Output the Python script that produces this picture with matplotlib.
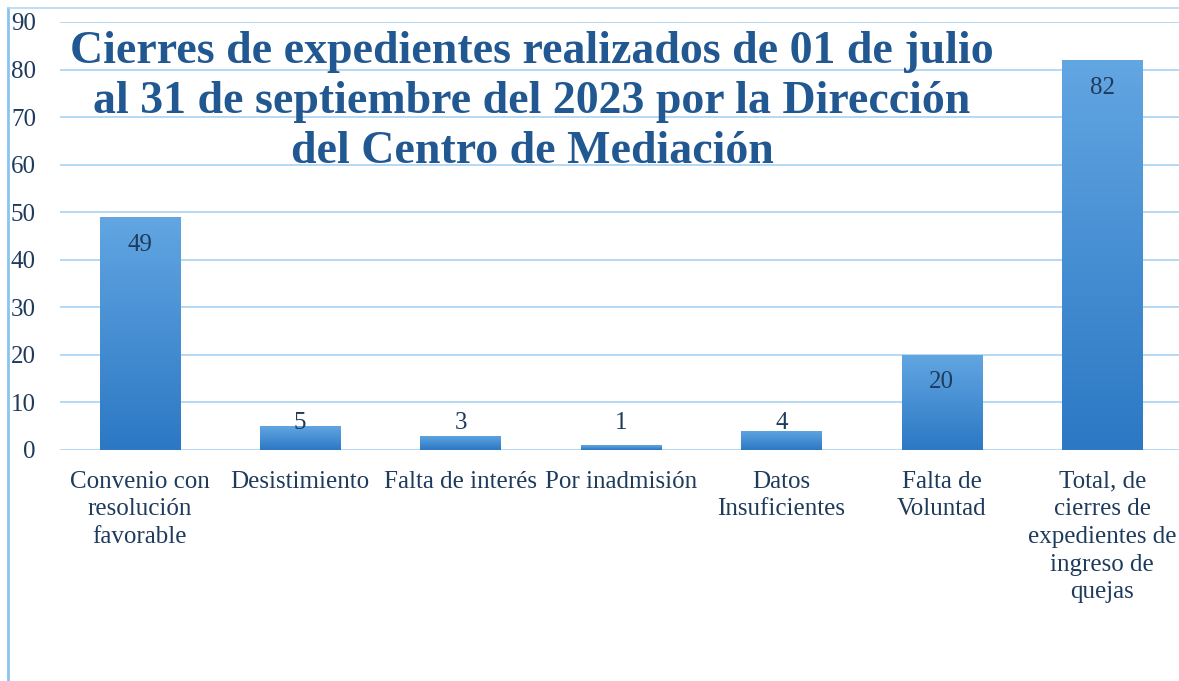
import matplotlib
matplotlib.use("Agg")
import matplotlib.pyplot as plt
import numpy as np
from matplotlib.colors import LinearSegmentedColormap
from matplotlib.lines import Line2D

categories = [
    "Convenio con\nresolución\nfavorable",
    "Desistimiento",
    "Falta de interés",
    "Por inadmisión",
    "Datos\nInsuficientes",
    "Falta de\nVoluntad",
    "Total, de\ncierres de\nexpedientes de\ningreso de\nquejas",
]
values = [49, 5, 3, 1, 4, 20, 82]
yticks = [0, 10, 20, 30, 40, 50, 60, 70, 80, 90]
title = ("Cierres de expedientes realizados de 01 de julio\n"
         "al 31 de septiembre del 2023 por la Dirección\n"
         "del Centro de Mediación")

serif = ["Liberation Serif", "DejaVu Serif"]
text_color = "#1f3b5c"
title_color = "#215891"
grid_color = "#a9d2f0"

fig = plt.figure(figsize=(11.79, 6.81), dpi=100)
fig.patch.set_facecolor("white")
ax = fig.add_axes([59.5 / 1179, 1 - 450 / 681, (1182.5 - 59.5) / 1179, (450 - 22) / 681])
ax.set_facecolor("white")

x = np.arange(len(categories))
bars = ax.bar(x, values, width=0.5, color="#3c8ad0", zorder=2)

cmap = LinearSegmentedColormap.from_list("g", ["#2c78c4", "#62a6e2"])
grad = np.linspace(0, 1, 256).reshape(-1, 1)
for b in bars:
    x0, y0 = b.get_x(), b.get_y()
    w, h = b.get_width(), b.get_height()
    im = ax.imshow(grad, cmap=cmap, aspect="auto", origin="lower",
                   extent=[x0, x0 + w, y0, y0 + h], zorder=2.1)
    im.set_clip_path(b)

for xi, v in zip(x, values):
    ly = max(v - 5.8, 5.7)
    ax.text(xi, ly, str(v), ha="center", va="center", fontsize=18,
            color=text_color, family=serif, zorder=3)

ax.set_xlim(-0.5, len(categories) - 0.5)
ax.set_ylim(0, 90)
ax.set_yticks(yticks)
ax.set_yticklabels([str(t) for t in yticks], family=serif, fontsize=18, color=text_color)
ax.set_xticks(x)
ax.set_xticklabels(categories, family=serif, fontsize=18, color=text_color,
                   linespacing=1.33, va="top")
ax.tick_params(axis="y", length=0, pad=17)
ax.tick_params(axis="x", length=0, pad=15)
ax.grid(axis="y", color=grid_color, linewidth=1.2, zorder=0)
ax.set_axisbelow(True)
for s in ax.spines.values():
    s.set_visible(False)

fig.text(532 / 1179, 1 - 102 / 681, title, ha="center", va="center",
         fontsize=33, fontweight="bold", color=title_color, family=serif,
         linespacing=1.26)

# figure frame lines (left and top)
fig.add_artist(Line2D([8 / 1179, 8 / 1179], [0, 1 - 8 / 681], color="#8cc4ee", lw=2))
fig.add_artist(Line2D([8 / 1179, 1], [1 - 8 / 681, 1 - 8 / 681], color="#b5d8f2", lw=1.2))

fig.savefig("out.png", dpi=100, facecolor="white")
